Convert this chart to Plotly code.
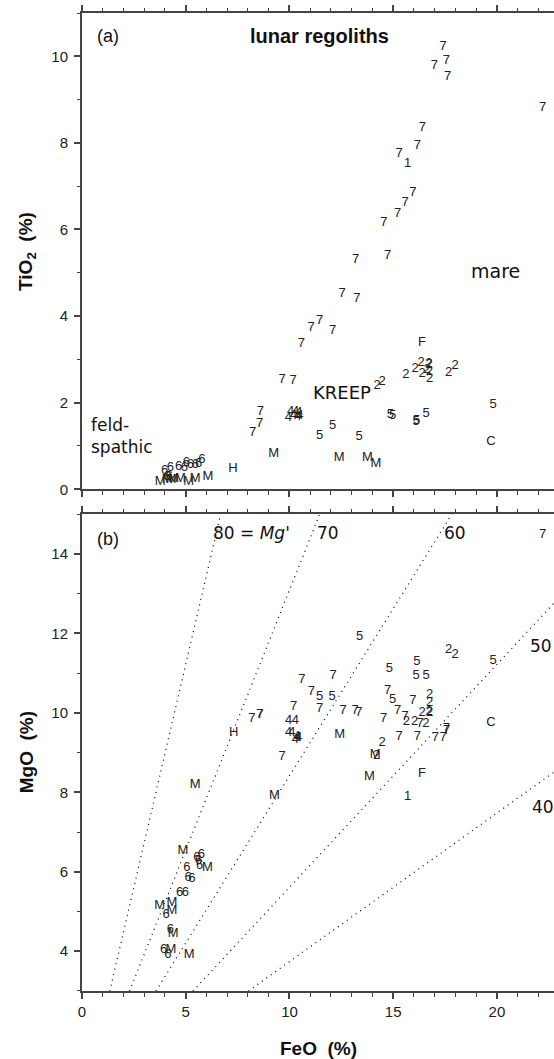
import plotly.graph_objects as go

# ---------------- Panel (a): TiO2 vs FeO ----------------
feo_a = [17.40, 17.56, 16.98, 17.62, 22.20, 16.40, 16.17, 15.29, 15.95, 15.58, 15.21, 14.55,
         13.19, 14.73, 12.54, 13.25, 11.04, 11.45, 12.08, 10.57, 9.64, 10.17, 8.60, 8.56, 8.22,
         15.69, 16.39,
         15.61, 16.06, 16.34, 16.72, 16.73, 16.63, 16.39, 16.75, 16.74, 17.67, 17.99, 14.22, 14.47,
         9.95, 10.05, 10.20, 10.30, 10.40, 10.45, 10.50,
         11.45, 12.08, 13.36, 14.86, 14.97, 16.11, 16.13, 16.59, 19.81,
         12.40, 13.76, 14.17, 9.24, 6.07, 5.46, 5.14, 4.74, 4.42, 3.77, 4.10, 4.30,
         19.71, 7.28,
         3.98, 4.26, 4.66, 4.93, 5.03, 5.22, 5.46, 5.62, 5.78, 4.10, 4.20]
tio2_a = [10.23, 9.90, 9.78, 9.53, 8.82, 8.36, 7.94, 7.74, 6.85, 6.61, 6.37, 6.16,
          5.31, 5.39, 4.51, 4.41, 3.74, 3.89, 3.66, 3.35, 2.54, 2.50, 1.78, 1.51, 1.31,
          7.53, 3.39,
          2.64, 2.79, 2.92, 2.89, 2.88, 2.75, 2.66, 2.56, 2.72, 2.69, 2.85, 2.39, 2.49,
          1.66, 1.80, 1.70, 1.80, 1.68, 1.76, 1.70,
          1.24, 1.47, 1.22, 1.72, 1.70, 1.56, 1.58, 1.74, 1.96,
          0.72, 0.72, 0.58, 0.82, 0.29, 0.25, 0.18, 0.25, 0.25, 0.18, 0.22, 0.22,
          1.09, 0.48,
          0.43, 0.50, 0.51, 0.50, 0.62, 0.56, 0.56, 0.60, 0.68, 0.30, 0.28]
lab_a = (["7"] * 25 + ["1", "F"] + ["2"] * 13 + ["4"] * 7 + ["5"] * 9 +
         ["M"] * 12 + ["C", "H"] + ["6"] * 11)

# ---------------- Panel (b): MgO vs FeO ----------------
feo_b = [22.20, 10.60, 12.10, 11.05, 14.73, 10.20, 11.45, 12.58, 13.17, 13.35, 15.95, 14.54,
         15.21, 15.58, 17.56, 17.58, 15.29, 16.17, 17.03, 17.40, 9.64, 8.19, 8.56, 8.58, 16.30,
         13.38, 19.81, 16.14, 14.82, 16.10, 16.59, 11.45, 12.06, 14.97,
         17.67, 17.99, 16.75, 16.75, 16.75, 16.73, 16.39, 15.63, 16.03, 16.58, 14.46, 14.20,
         9.96, 10.28, 9.96, 10.12, 10.36, 10.28, 10.44, 10.40,
         12.42, 14.13, 13.85, 9.27, 5.46, 4.87, 6.05, 3.74, 4.34, 4.34, 4.39, 4.29, 5.17,
         19.71, 7.31, 16.39, 15.69,
         5.75, 5.54, 5.62, 5.67, 5.06, 5.11, 5.30, 4.70, 4.98, 4.05, 4.26, 3.94, 4.14]
mgo_b = [14.47, 10.82, 10.94, 10.54, 10.55, 10.14, 10.10, 10.06, 10.06, 10.00, 10.29, 9.85,
         10.06, 9.91, 9.61, 9.55, 9.40, 9.40, 9.36, 9.36, 8.90, 9.84, 9.95, 9.96, 9.72,
         11.91, 11.32, 11.28, 11.11, 10.92, 10.93, 10.41, 10.41, 10.33,
         11.59, 11.45, 10.45, 10.24, 10.00, 10.02, 10.00, 9.78, 9.78, 9.72, 9.24, 8.92,
         9.81, 9.81, 9.50, 9.49, 9.40, 9.32, 9.36, 9.38,
         9.45, 8.94, 8.39, 7.91, 8.19, 6.53, 6.11, 5.14, 5.22, 5.02, 4.45, 4.05, 3.90,
         9.74, 9.49, 8.46, 7.88,
         6.44, 6.35, 6.28, 6.14, 6.11, 5.86, 5.83, 5.48, 5.46, 4.93, 4.55, 4.03, 3.90]
lab_b = (["7"] * 25 + ["5"] * 9 + ["2"] * 12 + ["4"] * 8 + ["M"] * 13 +
         ["C", "H", "F", "1"] + ["6"] * 13)

# Mg' isopleths (molar Mg/(Mg+Fe) x 100)
mg_numbers = [80, 70, 60, 50, 40]
MW_MGO, MW_FEO = 40.30, 71.85
X_MAX = 22.75
Y_B = (3, 15)

font_num = "Liberation Sans, Arial, sans-serif"
font_round = "DejaVu Sans, sans-serif"
axis_col = "#444"

fig = go.Figure()

fig.add_trace(go.Scatter(x=feo_a, y=tio2_a, mode="text", text=lab_a,
                         textposition="middle center", cliponaxis=False,
                         textfont=dict(family=font_num, size=13, color="#222"),
                         xaxis="x", yaxis="y", showlegend=False, hoverinfo="skip"))

for m in mg_numbers:
    k = m / (100 - m) * MW_MGO / MW_FEO
    x0 = Y_B[0] / k
    x1 = min(Y_B[1] / k, X_MAX)
    fig.add_trace(go.Scatter(x=[x0, x1], y=[k * x0, k * x1], mode="lines",
                             line=dict(color="black", width=1.2, dash="1px,4.5px"),
                             xaxis="x2", yaxis="y2", showlegend=False, hoverinfo="skip"))

fig.add_trace(go.Scatter(x=feo_b, y=mgo_b, mode="text", text=lab_b,
                         textposition="middle center", cliponaxis=False,
                         textfont=dict(family=font_num, size=13, color="#222"),
                         xaxis="x2", yaxis="y2", showlegend=False, hoverinfo="skip"))

common_axis = dict(showline=True, linecolor=axis_col, linewidth=2, ticks="outside",
                   ticklen=6, tickwidth=1.5, tickcolor=axis_col, showgrid=False,
                   zeroline=False, tickfont=dict(family=font_num, size=15, color="#222"),
                   minor=dict(ticks="outside", ticklen=3.5, tickwidth=1.2,
                              tickcolor=axis_col, showgrid=False))

top_dom = [0.513, 1.0]
bot_dom = [0.0, 0.4877]

fig.update_layout(
    width=554, height=1059,
    margin=dict(l=82, r=0, t=13, b=68),
    paper_bgcolor="white", plot_bgcolor="white",
    xaxis=dict(common_axis, domain=[0, 1], anchor="y", range=[0, X_MAX],
               tick0=0, dtick=5, showticklabels=False, mirror="ticks",
               minor=dict(common_axis["minor"], dtick=1)),
    yaxis=dict(common_axis, domain=top_dom, anchor="x", range=[0, 11],
               tick0=0, dtick=2, ticklabelstandoff=3,
               minor=dict(common_axis["minor"], dtick=1)),
    xaxis2=dict(common_axis, domain=[0, 1], anchor="y2", range=[0, X_MAX],
                tick0=0, dtick=5, mirror="ticks",
                minor=dict(common_axis["minor"], dtick=1)),
    yaxis2=dict(common_axis, domain=bot_dom, anchor="x2", range=list(Y_B),
                tick0=0, dtick=2, ticklabelstandoff=3,
                minor=dict(common_axis["minor"], dtick=1)),
)

ann = []
# axis titles
ann.append(dict(text="TiO<sub>2</sub>  (%)", xref="paper", yref="paper",
                x=-0.117, y=(top_dom[0] + top_dom[1]) / 2, textangle=-90,
                showarrow=False, xanchor="center", yanchor="middle",
                font=dict(family=font_num, size=19, color="#111", weight="bold")))
ann.append(dict(text="MgO  (%)", xref="paper", yref="paper",
                x=-0.117, y=(bot_dom[0] + bot_dom[1]) / 2, textangle=-90,
                showarrow=False, xanchor="center", yanchor="middle",
                font=dict(family=font_num, size=19, color="#111", weight="bold")))
ann.append(dict(text="FeO  (%)", xref="paper", yref="paper",
                x=0.5, y=-0.0593, showarrow=False, xanchor="center", yanchor="middle",
                font=dict(family=font_num, size=19, color="#111", weight="bold")))

# panel (a) labels
ann.append(dict(text="(a)", xref="x", yref="y", x=0.65, y=10.47, xanchor="left",
                yanchor="middle", showarrow=False,
                font=dict(family=font_num, size=18, color="#111")))
ann.append(dict(text="lunar regoliths", xref="x", yref="y", x=11.45, y=10.47,
                xanchor="center", yanchor="middle", showarrow=False,
                font=dict(family=font_num, size=20, color="#111", weight="bold")))
ann.append(dict(text="mare", xref="x", yref="y", x=19.92, y=5.03, xanchor="center",
                yanchor="middle", showarrow=False,
                font=dict(family=font_round, size=19, color="#111")))
ann.append(dict(text="KREEP", xref="x", yref="y", x=12.55, y=2.24, xanchor="center",
                yanchor="middle", showarrow=False,
                font=dict(family=font_round, size=18, color="#111")))
ann.append(dict(text="feld-<br>spathic", xref="x", yref="y", x=0.36, y=1.22,
                xanchor="left", yanchor="middle", align="left", showarrow=False,
                font=dict(family=font_round, size=17, color="#111")))

# panel (b) labels
ann.append(dict(text="(b)", xref="x2", yref="y2", x=0.65, y=14.36, xanchor="left",
                yanchor="middle", showarrow=False,
                font=dict(family=font_num, size=18, color="#111")))
ann.append(dict(text="80 = <i>Mg'</i>", xref="x2", yref="y2", x=6.2, y=14.53,
                xanchor="left", yanchor="middle", showarrow=False,
                font=dict(family=font_round, size=17, color="#111")))
for txt, xx, yy in [("70", 11.84, 14.53), ("60", 18.0, 14.53),
                    ("50", 22.1, 11.67), ("40", 22.2, 7.64)]:
    ann.append(dict(text=txt, xref="x2", yref="y2", x=xx, y=yy, xanchor="center",
                    yanchor="middle", showarrow=False,
                    font=dict(family=font_round, size=17, color="#111")))

fig.update_layout(annotations=ann)

fig.write_html("out.html", config={"displayModeBar": False})
